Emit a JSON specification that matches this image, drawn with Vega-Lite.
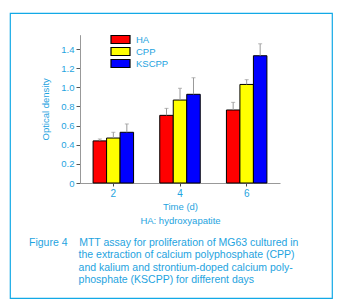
{
  "$schema": "https://vega.github.io/schema/vega-lite/v6.json",
  "width": 322,
  "height": 285,
  "autosize": "none",
  "padding": {"left": 10, "top": 13, "right": 5, "bottom": 5},
  "background": "white",
  "config": {
    "font": "Liberation Sans",
    "view": {"stroke": "#12a9e6", "strokeWidth": 1.2},
    "axis": {"grid": false}
  },
  "title": {
    "text": [
      "Figure 4\u00a0\u00a0\u00a0\u00a0MTT assay for proliferation of MG63 cultured in",
      "\u200b\u00a0\u00a0\u00a0\u00a0\u00a0\u00a0\u00a0\u00a0\u00a0\u00a0\u00a0\u00a0\u00a0\u00a0\u00a0\u00a0\u00a0the extraction of calcium polyphosphate (CPP)",
      "\u200b\u00a0\u00a0\u00a0\u00a0\u00a0\u00a0\u00a0\u00a0\u00a0\u00a0\u00a0\u00a0\u00a0\u00a0\u00a0\u00a0\u00a0and kalium and strontium-doped calcium poly-",
      "\u200b\u00a0\u00a0\u00a0\u00a0\u00a0\u00a0\u00a0\u00a0\u00a0\u00a0\u00a0\u00a0\u00a0\u00a0\u00a0\u00a0\u00a0phosphate (KSCPP) for different days"
    ],
    "orient": "bottom",
    "anchor": "start",
    "frame": "group",
    "offset": -60,
    "dx": 19,
    "fontSize": 10.5,
    "fontWeight": "normal",
    "color": "#1ea3e0",
    "lineHeight": 12.3,
    "baseline": "top"
  },
  "data": {
    "values": [
      {"day": "2", "group": "HA", "value": 0.44, "upper": 0.46},
      {"day": "2", "group": "CPP", "value": 0.47, "upper": 0.53},
      {"day": "2", "group": "KSCPP", "value": 0.53, "upper": 0.617},
      {"day": "4", "group": "HA", "value": 0.707, "upper": 0.78},
      {"day": "4", "group": "CPP", "value": 0.867, "upper": 0.99},
      {"day": "4", "group": "KSCPP", "value": 0.927, "upper": 1.10},
      {"day": "6", "group": "HA", "value": 0.763, "upper": 0.843},
      {"day": "6", "group": "CPP", "value": 1.03, "upper": 1.08},
      {"day": "6", "group": "KSCPP", "value": 1.33, "upper": 1.455}
    ]
  },
  "encoding": {
    "x": {
      "field": "day",
      "type": "nominal",
      "scale": {"range": [70, 270], "paddingInner": 0, "paddingOuter": 0},
      "axis": {
        "offset": -115,
        "labelAngle": 0,
        "labelColor": "#1ea3e0",
        "labelFontSize": 10,
        "labelPadding": 2,
        "tickSize": 3,
        "tickColor": "#444",
        "domainColor": "#999",
        "title": ["Time (d)", "HA: hydroxyapatite"],
        "titleColor": "#1ea3e0",
        "titleFontSize": 9.5,
        "titleFontWeight": "normal",
        "titleLineHeight": 14,
        "titlePadding": 3
      }
    },
    "xOffset": {
      "field": "group",
      "sort": ["HA", "CPP", "KSCPP"],
      "scale": {"paddingInner": 0, "paddingOuter": 0.97}
    }
  },
  "layer": [
    {
      "mark": {"type": "bar", "stroke": "black", "strokeWidth": 1},
      "encoding": {
        "y": {
          "field": "value",
          "type": "quantitative",
          "scale": {"domain": [0, 1.55], "range": [170, 21.7], "nice": false},
          "axis": {
            "offset": -70,
            "values": [0, 0.1, 0.2, 0.3, 0.4, 0.5, 0.6, 0.7, 0.8, 0.9, 1.0, 1.1, 1.2, 1.3, 1.4],
            "labelExpr": "(round(datum.value*10) % 2 == 0) ? (datum.value == 0 ? '0' : format(datum.value, '.1f')) : ''",
            "tickSize": {"condition": {"test": "round(datum.value*10) % 2 == 0", "value": 4}, "value": 2},
            "tickColor": "#555",
            "domainColor": "#999",
            "labelColor": "#1ea3e0",
            "labelFontSize": 9.5,
            "labelPadding": 2,
            "title": "Optical density",
            "titleColor": "#1ea3e0",
            "titleFontSize": 9.5,
            "titleFontWeight": "normal",
            "titlePadding": 10
          }
        },
        "color": {
          "field": "group",
          "type": "nominal",
          "sort": ["HA", "CPP", "KSCPP"],
          "scale": {"domain": ["HA", "CPP", "KSCPP"], "range": ["#ff0000", "#ffff00", "#0000ff"]},
          "legend": {
            "orient": "none",
            "legendX": 105.5,
            "legendY": 21.5,
            "title": null,
            "symbolType": "M-2.375,-1H2.375V1H-2.375Z",
            "symbolSize": 64,
            "symbolStrokeColor": "black",
            "symbolStrokeWidth": 1.2,
            "symbolOpacity": 1,
            "labelColor": "#1ea3e0",
            "labelFontSize": 9.5,
            "labelOffset": 10.5,
            "rowPadding": -6,
            "padding": 0
          }
        }
      }
    },
    {
      "mark": {"type": "rule", "color": "#999", "strokeWidth": 1},
      "encoding": {
        "y": {"field": "value", "type": "quantitative"},
        "y2": {"field": "upper"}
      }
    },
    {
      "mark": {"type": "tick", "color": "#999", "size": 4, "thickness": 1, "orient": "horizontal"},
      "encoding": {
        "y": {"field": "upper", "type": "quantitative"}
      }
    }
  ]
}
